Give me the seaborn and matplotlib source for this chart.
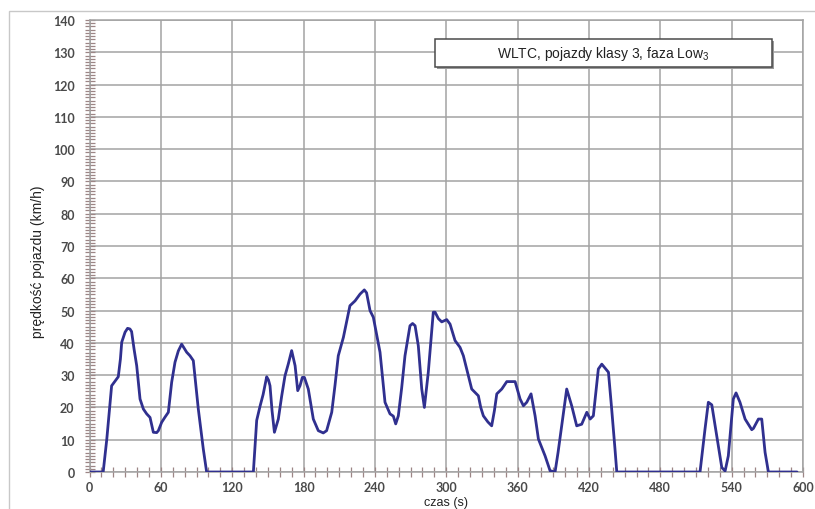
import matplotlib
matplotlib.use("Agg")
import matplotlib.pyplot as plt
from matplotlib.patches import Rectangle
from matplotlib.ticker import MultipleLocator
import seaborn as sns
import pandas as pd

# Czas (s) i prędkość pojazdu (km/h) – cykl WLTC, klasa 3, faza Low3
czas = [
    0, 11.5, 14.5, 18.6, 22.8, 24.2, 26, 27.1, 29.9, 32, 34, 35.4, 37.5, 39.7,
    42.5, 45.3, 48.1, 50.9, 53.7, 56.5, 57.9, 60.7, 63.5, 66.3, 69.1, 71.9,
    74.7, 77.5, 81.7, 84.5, 87.3, 91.5, 95.7, 98.5,
    137.8, 140.6, 143.5, 146, 149, 150.5, 151.8, 153.5, 155.5, 158.8, 161.6,
    164.4, 167.2, 170, 172.9, 175.1, 177, 179, 180.7, 184, 188.2, 192.4, 196.6,
    199.4, 203.7, 206.5, 209.2, 213.5, 216.5, 219, 223.3, 227.5, 231.1, 233,
    235.9, 238.7, 241.5, 244.3, 248.5, 252.7, 255.5, 257.5, 259.7, 262.5,
    265.3, 269.5, 271.7, 273.8, 276.5, 279.4, 281.6, 284.9, 287, 289.1,
    290.6, 293.4, 296.2, 300.4, 303.2, 307.4, 311.6, 314.4, 318.6, 321.4,
    327, 329, 331.2, 335, 338.2, 340.5, 342.5, 346.7, 350.9, 357.9, 362.1,
    364.9, 367.7, 371.3, 374.7, 377.5, 383.1, 387.3, 391.5, 394, 397.1, 401.3,
    405.5, 409.7, 413.9, 418.2, 421, 423.7, 427.9, 430.8, 434, 436.4, 439,
    441.9, 443.4,
    513.4, 517.6, 520.4, 523.3, 527.5, 531.7, 534.5, 537.2, 541.4, 543.7,
    547, 551.3, 556.9, 558.3, 562.5, 565.3, 568.1, 570.9, 595,
]
predkosc = [
    0, 0, 10, 26.7, 28.8, 29.5, 35, 40.2, 43.3, 44.5, 44.3, 43.5, 38, 32.9,
    22.6, 19.5, 18, 16.9, 12.3, 12.2, 12.8, 15.4, 17, 18.5, 27.8, 34,
    37.5, 39.6, 37.1, 36, 34.5, 19.5, 7.1, 0,
    0, 16, 20.5, 24, 29.5, 28.5, 26.7, 19, 12.3, 16.4, 23.5,
    29.8, 33.5, 37.6, 32.9, 25.2, 26.7, 29.3, 29.3, 25.7, 16.4, 12.8, 12.1,
    12.8, 18.5, 27, 36, 41.7, 47, 51.5, 53, 55.1, 56.4, 55.5,
    50, 47.9, 42.5, 37.1, 21.6, 18, 17.3, 14.9, 17.4, 26,
    36, 45.3, 46, 45.3, 39.1, 25.7, 20, 30.9, 40, 49.5,
    49.5, 47.5, 46.5, 47.2, 45.8, 40.7, 38.6, 36, 29.8, 25.7,
    23.6, 20, 17.4, 15.5, 14.3, 19, 24.2, 25.7, 28, 28, 22.6,
    20.5, 21.6, 24.2, 17.4, 10.2, 5, 0.4, 0, 6, 14.3, 25.7,
    20.5, 14.3, 14.8, 18.5, 16.4, 17.4, 31.9, 33.4, 32, 30.9, 20,
    7.1, 0,
    0, 13.3, 21.6, 20.8, 11.2, 1.4, 0.3, 5, 22.6, 24.5,
    21.6, 16.4, 13.1, 13.5, 16.4, 16.4, 6.1, 0, 0,
]
x_ticks = [0, 60, 120, 180, 240, 300, 360, 420, 480, 540, 600]
y_ticks = [0, 10, 20, 30, 40, 50, 60, 70, 80, 90, 100, 110, 120, 130, 140]
x_label = "czas (s)"
y_label = "prędkość pojazdu (km/h)"
legend_text = "WLTC, pojazdy klasy 3, faza Low$_\\mathregular{3}$"

sns.set_theme(style="white")
plt.rcParams["font.family"] = ["Liberation Sans", "DejaVu Sans"]

W, H = 815, 510
fig = plt.figure(figsize=(W / 100, H / 100), dpi=100)
fig.patch.set_facecolor("white")

# plot area in pixels: x 89.5..803, y 21..473 (from the top)
ax = fig.add_axes([89.5 / W, 1 - 473 / H, (803 - 89.5) / W, (473 - 21) / H])

df = pd.DataFrame({"czas": czas, "predkosc": predkosc})
sns.lineplot(data=df, x="czas", y="predkosc", ax=ax, color="#30308f",
             linewidth=2.0, estimator=None, sort=False, zorder=5)

ax.set_xlim(0, 600)
ax.set_ylim(0, 140)
ax.set_xticks(x_ticks)
ax.set_yticks(y_ticks)
ax.set_xticklabels([str(v) for v in x_ticks])
ax.set_yticklabels([str(v) for v in y_ticks])
ax.xaxis.set_minor_locator(MultipleLocator(10))
ax.yaxis.set_minor_locator(MultipleLocator(1))

grid_col = "#a3a3a3"
ax.grid(True, which="major", color=grid_col, linewidth=1.1)
ax.grid(False, which="minor")
for sp in ax.spines.values():
    sp.set_color(grid_col)
    sp.set_linewidth(1.1)

tick_col = "#9c8585"
ax.tick_params(which="both", direction="inout", color=tick_col, width=0.9,
               length=6.5)
ax.tick_params(axis="y", which="both", left=True, right=False)
ax.tick_params(axis="x", which="both", bottom=True, top=False)
ax.tick_params(axis="y", which="major", pad=7.5)
ax.tick_params(axis="x", which="major", pad=3.5)
for lab in ax.get_xticklabels() + ax.get_yticklabels():
    lab.set_fontfamily(["Lato", "DejaVu Sans"])
    lab.set_fontsize(9)
    lab.set_fontweight("bold")
    lab.set_color("#4a4a4a")

ax.set_xlabel(x_label, fontsize=9, color="#222222")
ax.set_ylabel(y_label, fontsize=10, color="#222222")
ax.xaxis.set_label_coords(0.5, (473 - 497.5) / 452)
ax.yaxis.set_label_coords((45 - 89.5) / 713.5, (473 - 262) / 452)

# caption box in the upper right part of the plot
bx0, bx1 = (435 - 89.5) / 713.5, (772 - 89.5) / 713.5
by0, by1 = (473 - 68) / 452, (473 - 40) / 452
shadow = Rectangle((bx0 + 2 / 713.5, by0 - 2 / 452), bx1 - bx0, by1 - by0,
                   transform=ax.transAxes, facecolor="#9a9a9a",
                   edgecolor="none", zorder=6)
box = Rectangle((bx0, by0), bx1 - bx0, by1 - by0, transform=ax.transAxes,
                facecolor="white", edgecolor="#4a4a4a", linewidth=1.1,
                zorder=7)
ax.add_patch(shadow)
ax.add_patch(box)
ax.text((bx0 + bx1) / 2, (by0 + by1) / 2, legend_text, transform=ax.transAxes,
        ha="center", va="center", fontsize=10, color="#222222", zorder=8)

# outer chart frame
frame = Rectangle((9 / W, -0.2), 1.2, 1.2 - 12 / H, transform=fig.transFigure,
                  fill=False, edgecolor="#c8c8c8", linewidth=1.0)
fig.patches.append(frame)

fig.savefig("out.png", dpi=100)
